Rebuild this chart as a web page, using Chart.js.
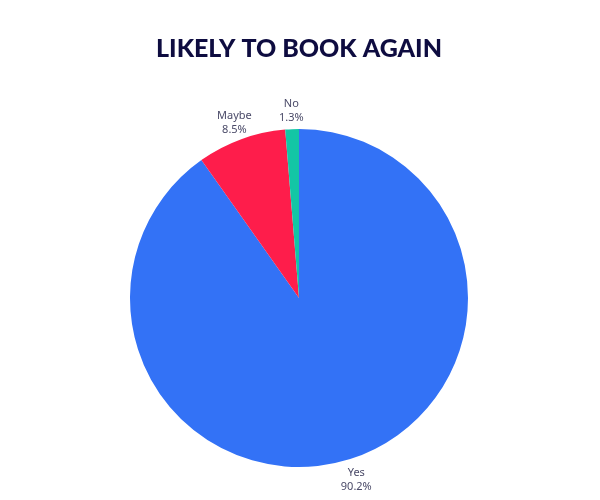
<!DOCTYPE html>
<html>
<head>
<meta charset="utf-8">
<script src="https://cdn.jsdelivr.net/npm/chart.js@4/dist/chart.umd.min.js"></script>
<style>
html,body{margin:0;padding:0;background:#fff;}
#wrap{width:600px;height:500px;}
</style>
</head>
<body>
<div id="wrap"><canvas id="c" width="600" height="500"></canvas></div>
<script>
const titleText = "LIKELY TO BOOK AGAIN";
const categories = ["Yes", "Maybe", "No"];
const values = [90.2, 8.5, 1.3];
const colors = ["#3372F6", "#FE1D4B", "#13C6A5"];

const outsideLabels = {
  id: 'outsideLabels',
  afterDatasetsDraw(chart) {
    const ctx = chart.ctx;
    const meta = chart.getDatasetMeta(0);
    ctx.save();
    ctx.font = '11px "Noto Sans", Lato, sans-serif';
    ctx.fillStyle = '#4a4a68';
    ctx.textAlign = 'center';
    ctx.textBaseline = 'middle';
    meta.data.forEach((arc, i) => {
      const p = arc.getProps(['x','y','startAngle','endAngle','outerRadius'], true);
      const mid = (p.startAngle + p.endAngle) / 2;
      const r = p.outerRadius + 20;
      const cx = p.x + Math.cos(mid) * r;
      const cy = p.y + Math.sin(mid) * r + 2;
      ctx.fillText(categories[i], cx, cy - 7);
      ctx.fillText(values[i].toFixed(1) + '%', cx, cy + 7);
    });
    ctx.restore();
  }
};

new Chart(document.getElementById('c'), {
  type: 'pie',
  data: {
    labels: categories,
    datasets: [{
      data: values,
      backgroundColor: colors,
      borderWidth: 0
    }]
  },
  options: {
    responsive: false,
    animation: false,
    layout: { padding: { left: 0, right: 2, top: 0, bottom: 33 } },
    plugins: {
      legend: { display: false },
      tooltip: { enabled: false },
      title: {
        display: true,
        text: titleText,
        color: '#0E0C40',
        font: { family: 'Lato, Roboto, sans-serif', size: 25, weight: '900', lineHeight: 1.2 },
        padding: { top: 34, bottom: 65 }
      }
    }
  },
  plugins: [outsideLabels]
});
</script>
</body>
</html>
